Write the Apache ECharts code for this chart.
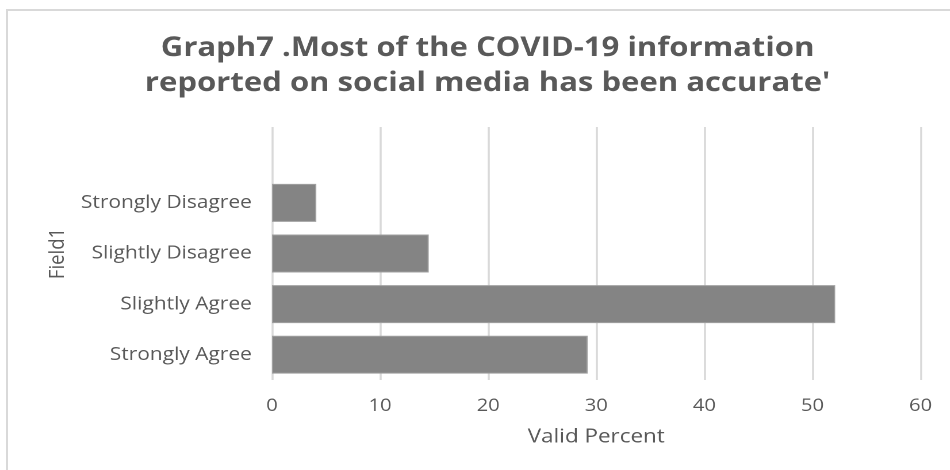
<!DOCTYPE html>
<html>
<head>
<meta charset="utf-8">
<script src="https://cdn.jsdelivr.net/npm/echarts@6/dist/echarts.min.js"></script>
<style>
  html, body { margin: 0; padding: 0; background: #ffffff; overflow: hidden; }
  #frame { position: absolute; left: 0; top: 0; width: 950px; height: 470px; overflow: hidden; }
  #edge { position: absolute; left: 6px; top: 9px; width: 960px; height: 480px;
          border-left: 2px solid #d9d9d9; border-top: 2px solid #d9d9d9; box-sizing: border-box; }
  /* the chart is laid out on a narrower canvas and widened to the full frame */
  #chart { position: absolute; left: 0; top: 0; width: 826px; height: 470px;
           transform: scaleX(1.15); transform-origin: 0 0; }
</style>
</head>
<body>
<div id="frame">
  <div id="edge"></div>
  <div id="chart"></div>
</div>
<script>
// Responses, listed bottom to top as the category axis stacks them
const categories = ['Strongly Agree', 'Slightly Agree', 'Slightly Disagree', 'Strongly Disagree'];
const validPercent = [29.2, 52.1, 14.5, 4.1];
const percentTicks = [0, 10, 20, 30, 40, 50, 60];

const titleLines = [
  'Graph7 .Most of the COVID-19 information',
  "reported on social media has been accurate'"
];

const textColor = '#595959';
const font = 'Open Sans';

const chart = echarts.init(document.getElementById('chart'), null, {
  renderer: 'canvas',
  devicePixelRatio: 2
});

chart.setOption({
  backgroundColor: 'transparent',
  animation: false,
  title: {
    text: titleLines.join('\n'),
    left: 419,
    top: 26,
    textAlign: 'center',
    textStyle: {
      fontFamily: font,
      fontWeight: 'bold',
      fontSize: 27,
      lineHeight: 35,
      color: textColor
    }
  },
  grid: {
    left: 236.5,
    right: 25.5,
    top: 127,
    bottom: 90,
    containLabel: false
  },
  xAxis: {
    type: 'value',
    min: percentTicks[0],
    max: percentTicks[percentTicks.length - 1],
    interval: percentTicks[1] - percentTicks[0],
    name: 'Valid Percent',
    nameLocation: 'middle',
    nameGap: 47,
    nameTextStyle: { fontFamily: font, fontSize: 19.5, color: textColor },
    axisLine: { show: false },
    axisTick: { show: false },
    axisLabel: { margin: 17, fontFamily: font, fontSize: 17.5, color: textColor },
    splitLine: { show: true, lineStyle: { color: '#d9d9d9', width: 1.75 } }
  },
  yAxis: {
    type: 'category',
    data: categories,
    max: categories.length,
    name: 'Field1',
    nameLocation: 'middle',
    nameGap: 177,
    nameRotate: 90,
    nameTextStyle: { fontFamily: font, fontSize: 18.5, color: textColor },
    axisLine: { show: false },
    axisTick: { show: false },
    axisLabel: {
      margin: 17.5,
      fontFamily: font,
      fontSize: 18.2,
      color: textColor,
      formatter: v => (v == null ? '' : v)
    },
    splitLine: { show: false }
  },
  series: [{
    type: 'bar',
    data: validPercent,
    barCategoryGap: '25%',
    itemStyle: { color: '#848484', borderColor: '#a0a0a0', borderWidth: 1 }
  }]
});
</script>
</body>
</html>
